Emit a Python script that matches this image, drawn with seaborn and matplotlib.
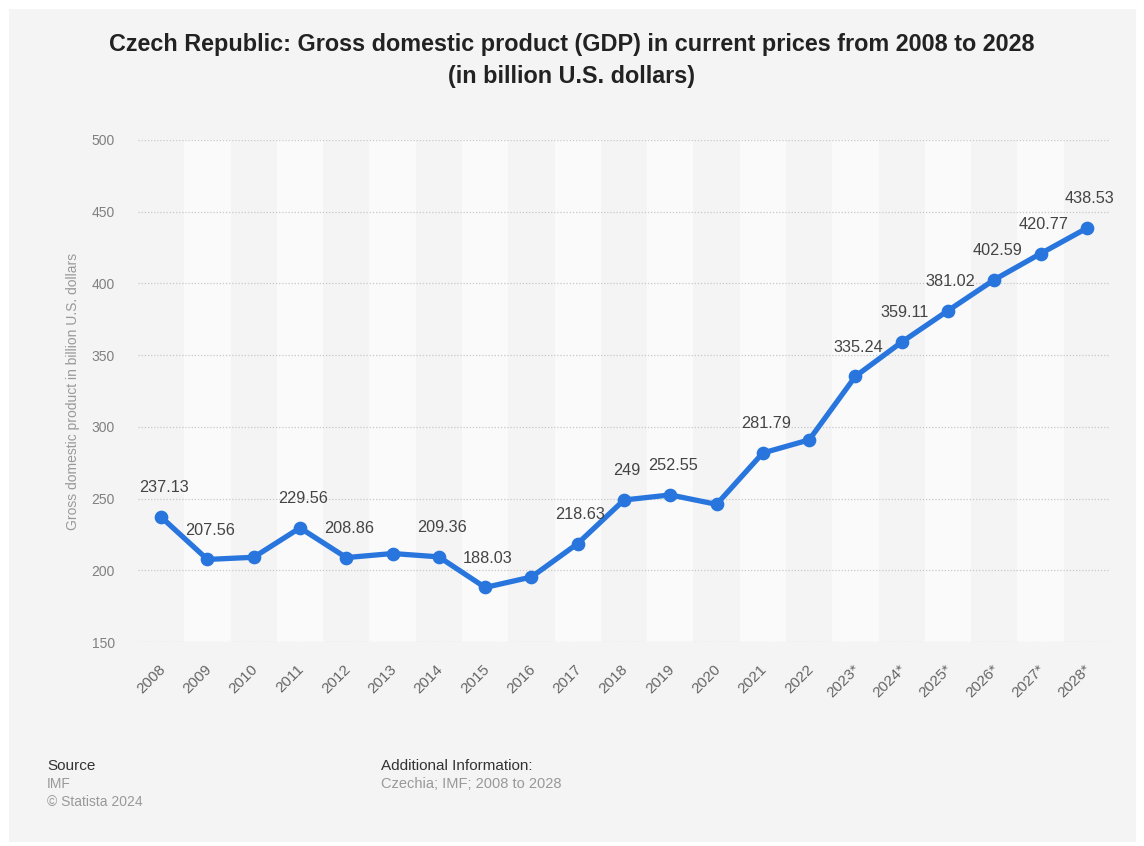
import matplotlib
matplotlib.use("Agg")
import matplotlib.pyplot as plt
import matplotlib.transforms as mtransforms
from matplotlib.patches import Rectangle
import numpy as np
import pandas as pd
import seaborn as sns

# GDP of the Czech Republic, billion U.S. dollars (forecast years marked *)
years = ["2008", "2009", "2010", "2011", "2012", "2013", "2014", "2015", "2016",
         "2017", "2018", "2019", "2020", "2021", "2022", "2023*", "2024*",
         "2025*", "2026*", "2027*", "2028*"]
gdp = [237.13, 207.56, 209.07, 229.56, 208.86, 211.69, 209.36, 188.03, 195.31,
       218.63, 249.0, 252.55, 245.97, 281.79, 290.92, 335.24, 359.11, 381.02,
       402.59, 420.77, 438.53]
# which points carry a value label
show_label = [True, True, False, True, True, False, True, True, False,
              True, True, True, False, True, False, True, True, True,
              True, True, True]
y_ticks = [150, 200, 250, 300, 350, 400, 450, 500]

df = pd.DataFrame({"year": years, "gdp": gdp})

sns.set_theme(style="white")
plt.rcParams["font.family"] = ["Liberation Sans", "DejaVu Sans"]

W, H = 1144, 846
fig = plt.figure(figsize=(W / 100, H / 100), dpi=100, facecolor="white")

# light grey card behind everything
panel = Rectangle((9 / W, 1 - 842 / H), (1136 - 9) / W, (842 - 9) / H,
                  transform=fig.transFigure, facecolor="#f4f4f4",
                  edgecolor="none", zorder=-10)
fig.patches.append(panel)

ax = fig.add_axes([138 / W, 1 - 642 / H, (1110 - 138) / W, (642 - 140) / H])
ax.set_facecolor("#f4f4f4")

blue = "#2876dd"

# alternating column bands
for i in range(len(years)):
    if i % 2 == 1:
        ax.axvspan(i - 0.5, i + 0.5, color="#fafafa", zorder=0, lw=0)

sns.pointplot(data=df, x="year", y="gdp", color=blue, ax=ax,
              markersize=7, linewidth=3.8, errorbar=None, zorder=5)

ax.set_xlim(-0.5, len(years) - 0.5)
ax.set_ylim(150, 500)
ax.set_yticks(y_ticks)
ax.set_yticklabels([str(t) for t in y_ticks])
ax.yaxis.grid(True, linestyle=(0, (1, 1.5)), color="#c8c8c8", linewidth=0.9)
ax.xaxis.grid(False)
ax.set_axisbelow(True)
for s in ax.spines.values():
    s.set_visible(False)

ax.tick_params(axis="y", length=0, pad=16.5, labelsize=10, labelcolor="#808080")
ax.tick_params(axis="x", length=0, pad=14.5, labelsize=11, labelcolor="#666666")
shift = mtransforms.ScaledTranslation(-3 / 100, 0, fig.dpi_scale_trans)
for lab in ax.get_xticklabels():
    lab.set_rotation(45)
    lab.set_ha("right")
    lab.set_rotation_mode("anchor")
    lab.set_transform(lab.get_transform() + shift)

ax.set_xlabel("")
ax.set_ylabel("Gross domestic product in billion U.S. dollars",
              fontsize=10, color="#999999", labelpad=8.5)

for i, (v, s) in enumerate(zip(gdp, show_label)):
    if s:
        ax.annotate(f"{v:g}", (i, v), xytext=(2, 21), textcoords="offset points",
                    ha="center", va="center", fontsize=11.7, color="#444444",
                    zorder=6)

fig.text(0.5, 1 - 45 / H,
         "Czech Republic: Gross domestic product (GDP) in current prices from 2008 to 2028",
         ha="center", va="center", fontsize=16.8, fontweight="bold", color="#222222")
fig.text(0.5, 1 - 77 / H, "(in billion U.S. dollars)",
         ha="center", va="center", fontsize=16.8, fontweight="bold", color="#222222")

fig.text(47 / W, 1 - 766 / H, "Source", fontsize=11, color="#333333", va="center")
fig.text(47 / W, 1 - 784 / H, "IMF", fontsize=10, color="#999999", va="center")
fig.text(47 / W, 1 - 802 / H, "\u00a9 Statista 2024", fontsize=10, color="#999999", va="center")
fig.text(381 / W, 1 - 766 / H, "Additional Information:", fontsize=11, color="#333333", va="center")
fig.text(381 / W, 1 - 784 / H, "Czechia; IMF; 2008 to 2028", fontsize=10.5, color="#999999", va="center")

fig.savefig("out.png", dpi=100, facecolor="white")
